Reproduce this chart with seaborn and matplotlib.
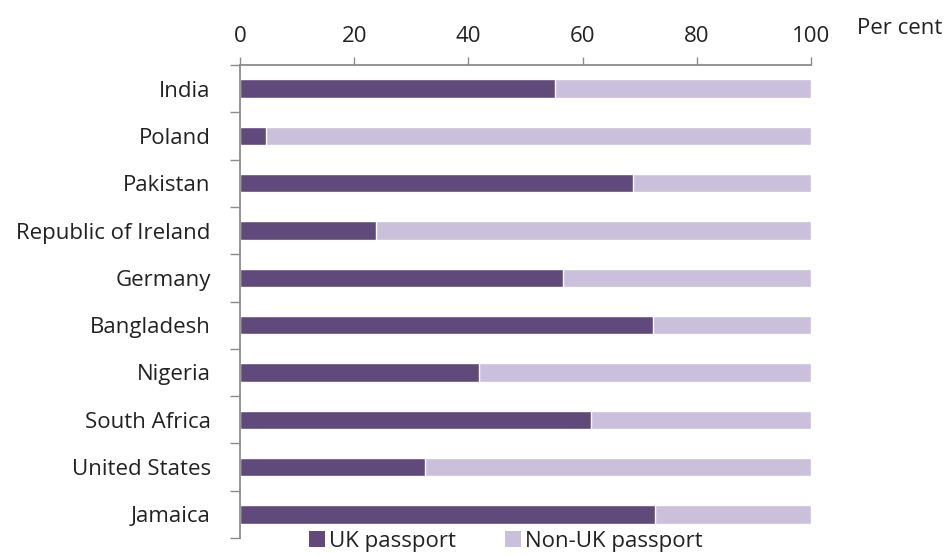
import matplotlib
matplotlib.use("Agg")
import matplotlib.pyplot as plt
from matplotlib.ticker import FixedLocator
from matplotlib.patches import Patch
import seaborn as sns
import pandas as pd

countries = ["India", "Poland", "Pakistan", "Republic of Ireland", "Germany",
             "Bangladesh", "Nigeria", "South Africa", "United States", "Jamaica"]
uk_passport = [55.2, 4.6, 68.9, 23.9, 56.6, 72.4, 41.9, 61.5, 32.4, 72.7]
non_uk_passport = [44.8, 95.4, 31.1, 76.1, 43.4, 27.6, 58.1, 38.5, 67.6, 27.3]
x_ticks = [0, 20, 40, 60, 80, 100]

dark = "#5f4a7b"
light = "#cbc0db"
axis_grey = "#8c8c8c"
text_col = "#222222"
fs = 16

sns.set_theme(style="white")
plt.rcParams["font.family"] = ["Open Sans", "DejaVu Sans"]

df = pd.DataFrame({"country": countries, "uk": uk_passport, "non_uk": non_uk_passport})
df["total"] = df["uk"] + df["non_uk"]

fig = plt.figure(figsize=(9.49, 5.55), dpi=100)
ax = fig.add_axes([240 / 949, 17 / 555, 571 / 949, 473 / 555])

# stacked bars: full length in the light shade, UK share over it
sns.barplot(data=df, x="total", y="country", color=light, width=0.39,
            saturation=1, ax=ax, orient="h")
sns.barplot(data=df, x="uk", y="country", color=dark, width=0.39,
            saturation=1, ax=ax, orient="h")

ax.set_xlim(0, 100)
ax.set_ylim(len(countries) - 0.5, -0.5)
ax.set_xlabel("")
ax.set_ylabel("")

# x axis along the top
ax.xaxis.tick_top()
ax.set_xticks(x_ticks)
ax.set_xticklabels([str(t) for t in x_ticks], fontsize=fs, color=text_col)
ax.tick_params(axis="x", which="major", direction="out", length=6, width=1,
               color=axis_grey, pad=7, top=True, bottom=False)

# y ticks at category boundaries
ax.yaxis.set_minor_locator(FixedLocator([i - 0.5 for i in range(len(countries) + 1)]))
ax.tick_params(axis="y", which="minor", direction="out", length=7, width=1,
               color=axis_grey, left=True)
ax.tick_params(axis="y", which="major", length=0, pad=21, labelsize=fs,
               labelcolor=text_col)

for side in ["right", "bottom"]:
    ax.spines[side].set_visible(False)
for side in ["top", "left"]:
    ax.spines[side].set_color(axis_grey)
    ax.spines[side].set_linewidth(1.3)

fig.text(857 / 949, 1 - 28 / 555, "Per cent", fontsize=fs, color=text_col,
         ha="left", va="center")

handles = [Patch(facecolor=dark, edgecolor="none", label="UK passport"),
           Patch(facecolor=light, edgecolor="none", label="Non-UK passport")]
leg = fig.legend(handles=handles, loc="center", bbox_to_anchor=(506 / 949, 1 - 541 / 555),
                 ncol=2, frameon=False, fontsize=fs, handlelength=0.7, handleheight=0.7,
                 handletextpad=0.2, columnspacing=2.2)
for t in leg.get_texts():
    t.set_color(text_col)

fig.savefig("out.png", dpi=100)
